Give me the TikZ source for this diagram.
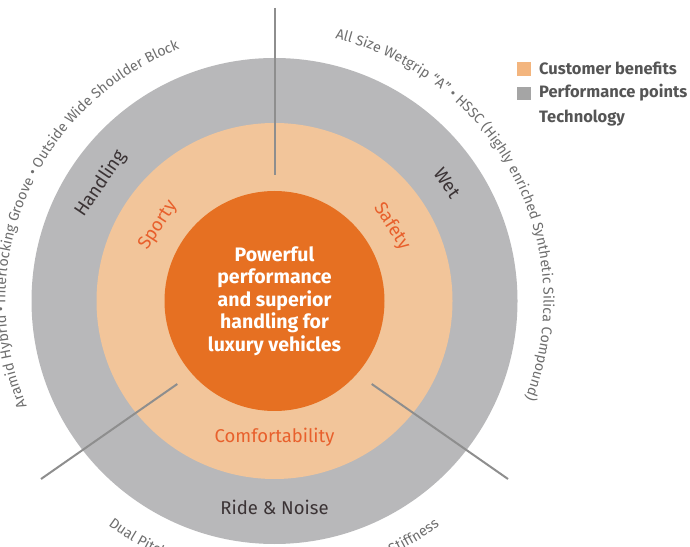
\documentclass[tikz,border=0pt]{standalone}
\usepackage{fontspec}
\setmainfont{Fira Sans}
\usepackage{xcolor}
\usetikzlibrary{decorations.text}

\definecolor{ringgray}{HTML}{B8B8BA}
\definecolor{ringpeach}{HTML}{F2C59A}
\definecolor{coreorange}{HTML}{E67022}
\definecolor{dividergray}{HTML}{8E8E8E}
\definecolor{benefitorange}{HTML}{E8602C}
\definecolor{pointdark}{HTML}{3B3335}
\definecolor{techgray}{HTML}{6E6E6E}
\definecolor{legendpeach}{HTML}{F3B57E}
\definecolor{legendgray}{HTML}{A5A5A5}
\definecolor{legendtext}{HTML}{555555}

\tikzset{
  divider/.style={draw=dividergray,line width=2pt},
  coretext/.style={align=center,text=white,inner sep=0pt,
    font=\bfseries\fontsize{19.5}{22.5}\selectfont},
  pointtext/.style={text=pointdark,inner sep=0pt,font=\fontsize{18.5}{20}\selectfont},
  benefittext/.style={text=benefitorange,inner sep=0pt,font=\fontsize{18.5}{20}\selectfont},
  legendlabel/.style={anchor=west,text=legendtext,inner sep=0pt,
    font=\bfseries\fontsize{16.5}{18}\selectfont},
}

\begin{document}
\begin{tikzpicture}[x=1pt,y=1pt]
\useasboundingbox (0,0) rectangle (690,546);
\clip (0,0) rectangle (690,546);
\begin{scope}[shift={(274.5,245)}]

    \fill[ringgray] (0,0) circle(243pt);
    \fill[ringpeach] (0,0) circle(178pt);

    \coordinate (topin) at (0,126);
    \coordinate (topout) at (0,293);
    \coordinate (rightin) at (97.2,-83);
    \coordinate (rightout) at (233.5,-178);
    \coordinate (leftin) at (-97.2,-83);
    \coordinate (leftout) at (-233.5,-178);
    \draw[divider] (topout) -- (topin);
    \draw[divider] (rightin) -- (rightout);
    \draw[divider] (leftin) -- (leftout);

    \fill[coreorange] (0,0) circle(110pt);
    \node[coretext] (core) at (0,0)
        {Powerful\\performance\\and superior\\handling for\\luxury vehicles};

    % performance points
    \node[pointtext,rotate=56] (handling) at (146:210) {Handling};
    \node[pointtext,rotate=-55.6] (wet) at (34.4:209) {Wet};
    \node[pointtext] (ride) at (-90:206) {Ride \& Noise};

    % customer benefits
    \node[benefittext,rotate=57] (sporty) at (147:138.5) {Sporty};
    \node[benefittext,rotate=-57.5] (safety) at (32.5:139) {Safety};
    \node[benefittext] (comfort) at (-90:136) {Comfortability};

    % technology
    \path[decorate,decoration={text along path,text align=left,text color=techgray,
        text={|\fontsize{14.3}{16}\selectfont|All Size Wetgrip “A” • HSSC (Highly enriched Synthetic Silica Compound)}}]
        (77:269pt) arc[start angle=77,end angle=-60,radius=269pt];
    \path[decorate,decoration={text along path,text align=left,text color=techgray,
        text={|\fontsize{14.3}{16}\selectfont|Aramid Hybrid • Interlocking Groove • Outside Wide Shoulder Block}}]
        (203:269pt) arc[start angle=203,end angle=80,radius=269pt];
    \path[decorate,decoration={text along path,text align=left,text color=techgray,
        text={|\fontsize{14.3}{16}\selectfont|Dual Pitch}}]
        (233.4:279pt) arc[start angle=233.4,end angle=268,radius=279pt];
    \path[decorate,decoration={text along path,text align=right,text color=techgray,
        text={|\fontsize{14.3}{16}\selectfont|Stiffness}}]
        (275:279pt) arc[start angle=275,end angle=306.3,radius=279pt];
\end{scope}

    % legend
    \fill[legendpeach] (517,470) rectangle (531,484);
    \fill[legendgray] (517,446) rectangle (531,459.3);
    \node[legendlabel] (benefits) at (539,478) {Customer benefits};
    \node[legendlabel] (points) at (539,453) {Performance points};
    \node[legendlabel] (techno) at (539,428) {Technology};
\end{tikzpicture}
\end{document}
